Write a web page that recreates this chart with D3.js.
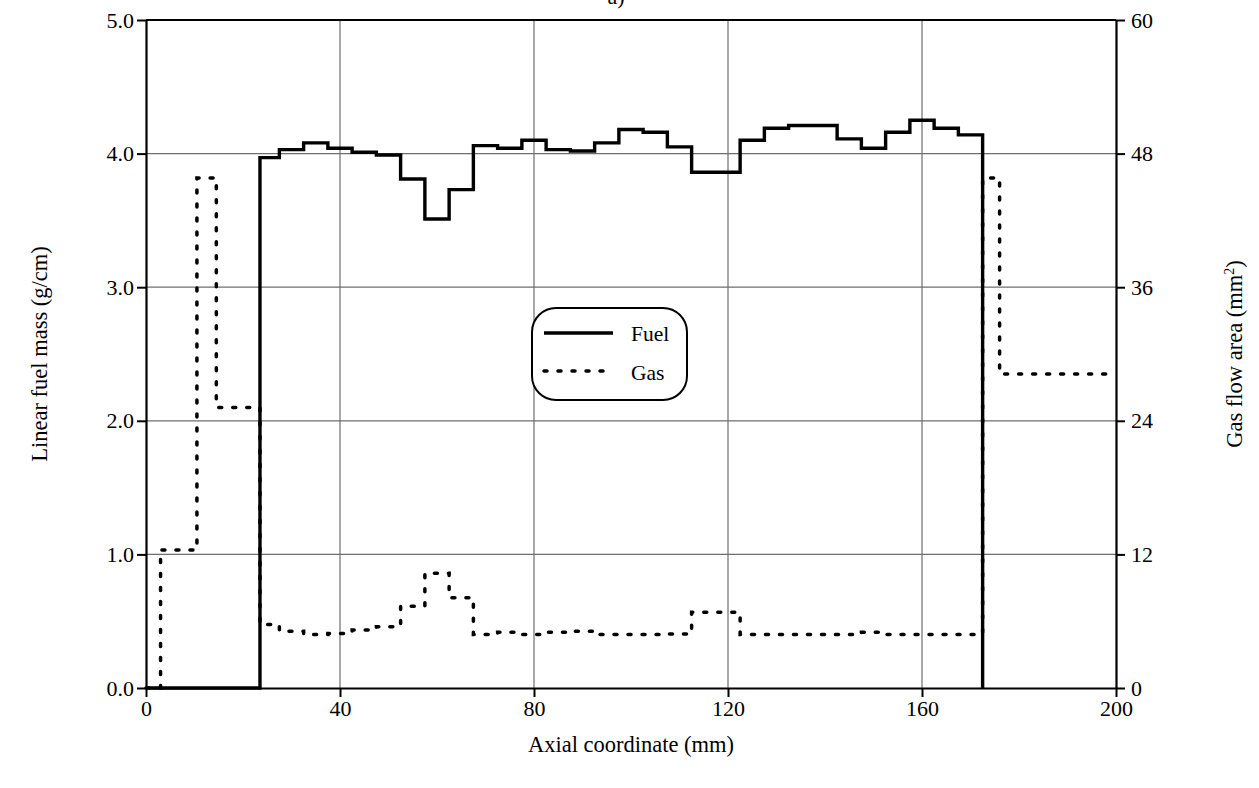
<!DOCTYPE html>
<html>
<head>
<meta charset="utf-8">
<script src="https://cdn.jsdelivr.net/npm/d3@7"></script>
<style>
  body { margin: 0; background: #fff; }
  text { font-family: "Liberation Serif", "Times New Roman", serif; fill: #000; }
</style>
</head>
<body>
<div id="chart"></div>
<script>
// fuel: bin start (mm) and linear mass (g/cm), step after
var fuelX = [0, 23.5, 27.5, 32.5, 37.5, 42.5, 47.5, 52.5, 57.5, 62.5, 67.5, 72.5, 77.5, 82.5, 87.5,
    92.5, 97.5, 102.5, 107.5, 112.5, 122.5, 127.5, 132.5, 137.5, 142.5, 147.5, 152.5, 157.5,
    162.5, 167.5, 172.5];
var fuelMass = [0, 3.97, 4.03, 4.08, 4.04, 4.01, 3.99, 3.81, 3.51, 3.73, 4.06, 4.04, 4.10, 4.03, 4.02,
    4.08, 4.18, 4.16, 4.05, 3.86, 4.10, 4.19, 4.21, 4.21, 4.11, 4.04, 4.16, 4.25,
    4.19, 4.14, 0];

// gas: bin start (mm) and flow area (mm2)
var gasX = [0, 3, 10.5, 14.5, 23.5, 27.5, 32.5, 37.5, 42.5, 47.5, 52.5, 57.5, 62.5, 67.5, 72.5,
    77.5, 82.5, 87.5, 92.5, 107.5, 112.5, 122.5, 147.5, 152.5, 172.5, 176, 198];
var gasArea = [0, 12.4, 45.8, 25.2, 5.7, 5.1, 4.8, 4.9, 5.2, 5.5, 7.35, 10.3, 8.1, 4.8, 5.0,
    4.8, 5.0, 5.1, 4.8, 4.85, 6.8, 4.8, 5.0, 4.8, 45.8, 28.2, 28.2];

var xTicks = [0, 40, 80, 120, 160, 200];
var yLeftTicks = [0, 1, 2, 3, 4, 5];
var yRightTicks = [0, 12, 24, 36, 48, 60];

var width = 1259,
    height = 788,
    plotL = 146,
    plotR = 1116,
    plotT = 20,
    plotB = 688;

var svg = d3.select("#chart")
    .append("svg")
    .attr("width", width)
    .attr("height", height);

var x = d3.scaleLinear().domain([0, 200]).range([plotL, plotR]);
var yL = d3.scaleLinear().domain([0, 5]).range([plotB, plotT]);
var yR = d3.scaleLinear().domain([0, 60]).range([plotB, plotT]);

// grid
svg.append("g")
    .selectAll("line")
    .data(xTicks.slice(1, -1)).enter()
    .append("line")
    .attr("x1", function(d) { return x(d); })
    .attr("x2", function(d) { return x(d); })
    .attr("y1", plotT)
    .attr("y2", plotB)
    .attr("stroke", "#6e6e6e")
    .attr("stroke-width", 1.2);

svg.append("g")
    .selectAll("line")
    .data(yLeftTicks.slice(1, -1)).enter()
    .append("line")
    .attr("x1", plotL)
    .attr("x2", plotR)
    .attr("y1", function(d) { return yL(d); })
    .attr("y2", function(d) { return yL(d); })
    .attr("stroke", "#6e6e6e")
    .attr("stroke-width", 1.2);

// axes
var xAxis = svg.append("g")
    .attr("transform", "translate(0," + plotB + ")")
    .call(d3.axisBottom(x).tickValues(xTicks).tickFormat(d3.format("d")).tickSizeInner(9).tickSizeOuter(0).tickPadding(3));

var leftAxis = svg.append("g")
    .attr("transform", "translate(" + plotL + ",0)")
    .call(d3.axisLeft(yL).tickValues(yLeftTicks).tickFormat(d3.format(".1f")).tickSizeInner(9).tickSizeOuter(0).tickPadding(3));

var rightAxis = svg.append("g")
    .attr("transform", "translate(" + plotR + ",0)")
    .call(d3.axisRight(yR).tickValues(yRightTicks).tickFormat(d3.format("d")).tickSizeInner(9).tickSizeOuter(0).tickPadding(6));

[xAxis, leftAxis, rightAxis].forEach(function(g) {
    g.selectAll("path").attr("stroke", "#000").attr("stroke-width", 2.2);
    g.selectAll("line").attr("stroke", "#000").attr("stroke-width", 2);
    g.selectAll("text").style("font-size", "22px").attr("fill", "#000");
});

// top frame line
svg.append("line")
    .attr("x1", plotL).attr("x2", plotR)
    .attr("y1", plotT).attr("y2", plotT)
    .attr("stroke", "#000")
    .attr("stroke-width", 2.2);

// series
var fuelLine = d3.line()
    .x(function(d) { return x(d[0]); })
    .y(function(d) { return yL(d[1]); })
    .curve(d3.curveStepAfter);

var gasLine = d3.line()
    .x(function(d) { return x(d[0]); })
    .y(function(d) { return yR(d[1]); })
    .curve(d3.curveStepAfter);

svg.append("path")
    .datum(gasX.map(function(v, i) { return [v, gasArea[i]]; }))
    .attr("d", gasLine)
    .attr("fill", "none")
    .attr("stroke", "#000")
    .attr("stroke-width", 3.5)
    .attr("stroke-linecap", "round")
    .attr("stroke-dasharray", "3,11");

svg.append("path")
    .datum(fuelX.map(function(v, i) { return [v, fuelMass[i]]; }))
    .attr("d", fuelLine)
    .attr("fill", "none")
    .attr("stroke", "#000")
    .attr("stroke-width", 3.4);

// titles
svg.append("text")
    .attr("x", (plotL + plotR) / 2)
    .attr("y", 752)
    .attr("text-anchor", "middle")
    .style("font-size", "22.5px")
    .text("Axial coordinate (mm)");

svg.append("text")
    .attr("transform", "translate(47," + (plotT + plotB) / 2 + ") rotate(-90)")
    .attr("text-anchor", "middle")
    .style("font-size", "22.5px")
    .text("Linear fuel mass (g/cm)");

var rt = svg.append("text")
    .attr("transform", "translate(1242," + (plotT + plotB) / 2 + ") rotate(-90)")
    .attr("text-anchor", "middle")
    .style("font-size", "22.5px")
    .text("Gas flow area (mm");
rt.append("tspan").text("2").attr("dy", -8).style("font-size", "14px");
rt.append("tspan").text(")").attr("dy", 8);

svg.append("text")
    .attr("x", 616)
    .attr("y", 4)
    .attr("text-anchor", "middle")
    .style("font-size", "22px")
    .text("a)");

// legend
var legend = svg.append("g").attr("transform", "translate(532,308)");
legend.append("rect")
    .attr("width", 155)
    .attr("height", 92)
    .attr("rx", 24)
    .attr("fill", "#fff")
    .attr("stroke", "#000")
    .attr("stroke-width", 2);
legend.append("line")
    .attr("x1", 12).attr("x2", 81)
    .attr("y1", 25).attr("y2", 25)
    .attr("stroke", "#000")
    .attr("stroke-width", 3.4);
legend.append("line")
    .attr("x1", 12).attr("x2", 81)
    .attr("y1", 63).attr("y2", 63)
    .attr("stroke", "#000")
    .attr("stroke-width", 3.5)
    .attr("stroke-linecap", "round")
    .attr("stroke-dasharray", "3,11");
legend.append("text")
    .attr("x", 99).attr("y", 33)
    .style("font-size", "21.5px")
    .text("Fuel");
legend.append("text")
    .attr("x", 99).attr("y", 72)
    .style("font-size", "21.5px")
    .text("Gas");
</script>
</body>
</html>
